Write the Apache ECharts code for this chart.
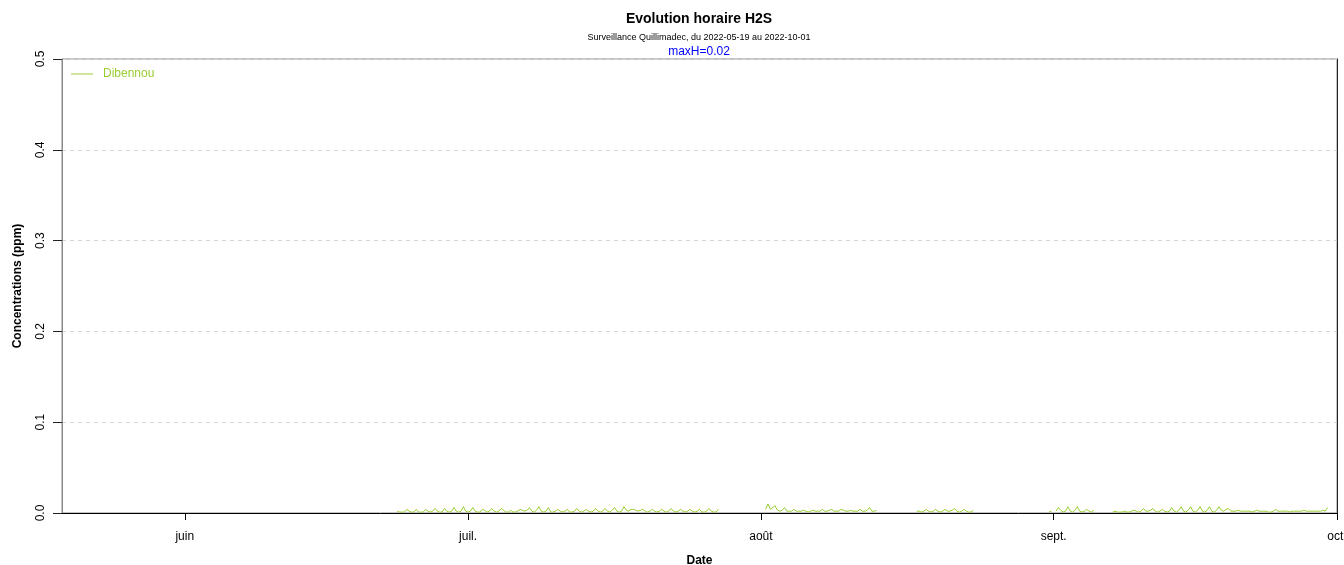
<!DOCTYPE html>
<html>
<head>
<meta charset="utf-8">
<script src="https://cdn.jsdelivr.net/npm/echarts@6/dist/echarts.min.js"></script>
<style>
  html, body { margin: 0; padding: 0; background: #fff; }
  #chart { width: 1344px; height: 565px; }
</style>
</head>
<body>
<div id="chart"></div>
<script>
// H2S horaire, station Dibennou (ppm), un point toutes les 6 h
var stepHours = 6;
var segA_start = '2022-06-23T12:00:00Z';
var segA = [
  0.002, 0.001,
  0.001, 0.001, 0.004, 0.002,
  0.001, 0.001, 0.004, 0.001,
  0.001, 0.001, 0.004, 0.002,
  0.001, 0.002, 0.005, 0.002,
  0.001, 0.001, 0.005, 0.002,
  0.001, 0.002, 0.006, 0.002,
  0.001, 0.002, 0.007, 0.002,
  0.001, 0.002, 0.006, 0.002,
  0.001, 0.001, 0.004, 0.003,
  0.001, 0.002, 0.005, 0.002,
  0.001, 0.002, 0.005, 0.003,
  0.001, 0.001, 0.003, 0.001,
  0.001, 0.002, 0.004, 0.003,
  0.002, 0.003, 0.006, 0.002,
  0.001, 0.003, 0.007, 0.002,
  0.001, 0.002, 0.006, 0.001,
  0.001, 0.002, 0.004, 0.002,
  0.001, 0.002, 0.004, 0.001,
  0.001, 0.002, 0.005, 0.002,
  0.001, 0.002, 0.004, 0.002,
  0.001, 0.002, 0.005, 0.002,
  0.001, 0.002, 0.005, 0.002,
  0.001, 0.003, 0.006, 0.002,
  0.001, 0.002, 0.007, 0.003,
  0.002, 0.004, 0.004, 0.003,
  0.002, 0.003, 0.004, 0.002,
  0.001, 0.002, 0.004, 0.002,
  0.001, 0.002, 0.004, 0.002,
  0.001, 0.002, 0.005, 0.002,
  0.001, 0.002, 0.004, 0.002,
  0.001, 0.002, 0.004, 0.002,
  0.001, 0.002, 0.004, 0.001,
  0.001, 0.002, 0.005, 0.002,
  0.001, 0.001, 0.004
];
var segB_start = '2022-08-01T12:00:00Z';
var segB = [
  0.004, 0.010,
  0.004, 0.006, 0.008, 0.003,
  0.002, 0.003, 0.006, 0.002,
  0.002, 0.002, 0.004, 0.002,
  0.002, 0.002, 0.003, 0.002,
  0.001, 0.002, 0.003, 0.002,
  0.002, 0.002, 0.004, 0.002,
  0.002, 0.003, 0.004, 0.002,
  0.002, 0.002, 0.004, 0.003,
  0.002, 0.002, 0.003, 0.002,
  0.002, 0.002, 0.004, 0.002,
  0.002, 0.003, 0.006, 0.002,
  0.002, 0.003
];
var segC_start = '2022-08-17T12:00:00Z';
var segC = [
  0.002, 0.002,
  0.001, 0.002, 0.004, 0.002,
  0.001, 0.002, 0.004, 0.002,
  0.001, 0.002, 0.004, 0.002,
  0.002, 0.003, 0.005, 0.002,
  0.001, 0.002, 0.004, 0.002,
  0.001, 0.001, 0.003
];
var segD_start = '2022-08-31T12:00:00Z';
var segD = [0.001, 0.002];
var segE_start = '2022-09-01T06:00:00Z';
var segE = [
  0.002, 0.006, 0.003,
  0.001, 0.002, 0.007, 0.002,
  0.001, 0.003, 0.007, 0.002,
  0.001, 0.002, 0.004, 0.002,
  0.001, 0.003
];
var segF_start = '2022-09-07T06:00:00Z';
var segF = [
  0.001, 0.002, 0.001,
  0.001, 0.001, 0.002, 0.001,
  0.001, 0.002, 0.003, 0.002,
  0.001, 0.002, 0.005, 0.002,
  0.002, 0.003, 0.005, 0.002,
  0.001, 0.002, 0.004, 0.002,
  0.001, 0.002, 0.006, 0.002,
  0.001, 0.003, 0.007, 0.002,
  0.001, 0.003, 0.007, 0.002,
  0.001, 0.003, 0.007, 0.002,
  0.001, 0.003, 0.007, 0.002,
  0.001, 0.003, 0.007, 0.003,
  0.002, 0.004, 0.005, 0.002,
  0.002, 0.002, 0.003, 0.002,
  0.002, 0.002, 0.002, 0.002,
  0.001, 0.002, 0.003, 0.002,
  0.002, 0.002, 0.002, 0.001,
  0.001, 0.002, 0.004, 0.002,
  0.002, 0.002, 0.002, 0.002,
  0.001, 0.002, 0.002, 0.002,
  0.002, 0.002, 0.003, 0.002,
  0.002, 0.002, 0.002, 0.002,
  0.002, 0.002, 0.003, 0.002,
  0.006
];
var segments = [
  [segA_start, segA], [segB_start, segB], [segC_start, segC],
  [segD_start, segD], [segE_start, segE], [segF_start, segF]
];

// axe des dates
var dateMin = '2022-05-19T00:00:00Z';
var dateMax = '2022-10-01T00:00:00Z';
var monthTicks = ['2022-06-01', '2022-07-01', '2022-08-01', '2022-09-01', '2022-10-01'];
var monthLabels = ['juin', 'juil.', 'août', 'sept.', 'oct.'];

var stationName = 'Dibennou';
var lineColor = '#9ACD32';

// construction des points (coupure entre les periodes sans mesure)
var data = [];
segments.forEach(function (seg) {
  var t0 = Date.parse(seg[0]);
  seg[1].forEach(function (v, i) {
    data.push([t0 + i * stepHours * 3600 * 1000, v]);
  });
  data.push([t0 + seg[1].length * stepHours * 3600 * 1000, '-']);
});
var tickValues = monthTicks.map(function (d) { return Date.parse(d + 'T00:00:00Z'); });

var font = 'Liberation Sans, Arial, sans-serif';
var myChart = echarts.init(document.getElementById('chart'), null, { renderer: 'canvas' });
var option = {
  backgroundColor: '#fff',
  animation: false,
  textStyle: { fontFamily: font },
  grid: {
    left: 62, right: 7, top: 59, bottom: 52,
    outerBoundsMode: 'none',
    containLabel: false,
    show: true, borderColor: '#888', borderWidth: 1, backgroundColor: 'transparent'
  },
  graphic: [
    { type: 'text', x: 699, y: 19, style: { text: 'Evolution horaire H2S', font: 'bold 14px ' + font, fill: '#000', textAlign: 'center', textVerticalAlign: 'middle' } },
    { type: 'text', x: 699, y: 38, style: { text: 'Surveillance Quillimadec, du 2022-05-19 au 2022-10-01', font: '9px ' + font, fill: '#000', textAlign: 'center', textVerticalAlign: 'middle' } },
    { type: 'text', x: 699, y: 52, style: { text: 'maxH=0.02', font: '12px ' + font, fill: '#0000ff', textAlign: 'center', textVerticalAlign: 'middle' } }
  ],
  legend: {
    left: 71, top: 68,
    padding: 0,
    itemWidth: 22, itemHeight: 1,
    itemGap: 10,
    icon: 'rect',
    itemStyle: { color: lineColor },
    textStyle: { color: lineColor, fontSize: 12, fontFamily: font, padding: [0, 0, 0, 5] },
    data: [stationName]
  },
  xAxis: {
    type: 'value',
    min: Date.parse(dateMin),
    max: Date.parse(dateMax),
    name: 'Date',
    nameLocation: 'middle',
    nameGap: 42,
    nameTextStyle: { fontWeight: 'bold', fontSize: 12, color: '#000' },
    axisLine: { lineStyle: { color: '#000', width: 1 } },
    axisTick: { show: true, length: 7, customValues: tickValues, lineStyle: { color: '#000' } },
    axisLabel: {
      customValues: tickValues, margin: 18, fontSize: 12, color: '#000',
      formatter: function (v) {
        var i = tickValues.indexOf(v);
        return i >= 0 ? monthLabels[i] : '';
      }
    },
    splitLine: { show: false }
  },
  yAxis: [{
    type: 'value',
    min: 0, max: 0.5, interval: 0.1,
    name: 'Concentrations (ppm)',
    nameLocation: 'middle',
    nameGap: 38,
    nameTextStyle: { fontWeight: 'bold', fontSize: 12, color: '#000' },
    axisLine: { show: true, lineStyle: { color: '#888', width: 1 } },
    axisTick: { show: true, length: 9, lineStyle: { color: '#222' } },
    axisLabel: {
      rotate: 90, margin: 15, fontSize: 12, color: '#000',
      formatter: function (v) { return v.toFixed(1); }
    },
    splitLine: { show: true, lineStyle: { color: '#d6d6d6', type: [4, 4], width: 1 } }
  }, {
    // bord droit du cadre
    type: 'value',
    position: 'right',
    min: 0, max: 0.5, interval: 0.1,
    axisLine: { show: true, lineStyle: { color: '#222', width: 1 } },
    axisTick: { show: false },
    axisLabel: { show: false },
    splitLine: { show: false }
  }],
  series: [{
    name: stationName,
    type: 'line',
    data: data,
    symbol: 'none',
    connectNulls: false,
    lineStyle: { color: lineColor, width: 1 },
    itemStyle: { color: lineColor }
  }]
};
option && myChart.setOption(option);
</script>
</body>
</html>
